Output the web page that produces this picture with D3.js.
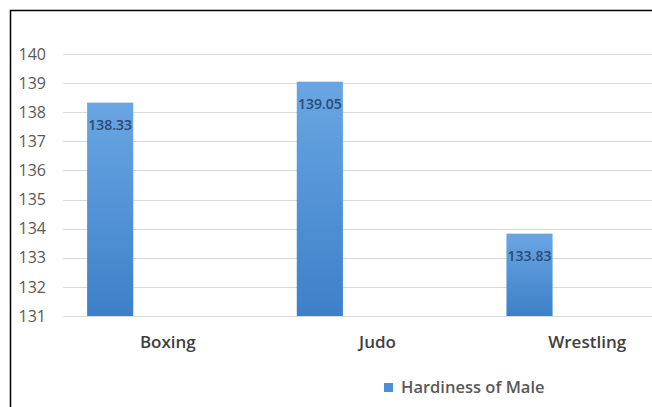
<!DOCTYPE html>
<html>
<head>
<meta charset="utf-8">
<script src="https://cdn.jsdelivr.net/npm/d3@7"></script>
<style>
  body { margin: 0; background: #fff; }
  svg { display: block; }
</style>
</head>
<body>
<div id="chart"></div>
<script>
// data
const sports = ["Boxing", "Judo", "Wrestling"];
const hardinessMale = [138.33, 139.05, 133.83];
const yTicks = [131, 132, 133, 134, 135, 136, 137, 138, 139, 140];
const seriesName = "Hardiness of Male";

const sizes = {
    width: 652,
    height: 407,
    margin: {top: 54, right: -40, bottom: 91, left: 63}
};

const svg = d3.select("#chart")
              .append("svg")
              .attr("width", sizes.width)
              .attr("height", sizes.height);

const defs = svg.append("defs");
const grad = defs.append("linearGradient")
                 .attr("id", "barGrad")
                 .attr("x1", 0).attr("y1", 0)
                 .attr("x2", 0).attr("y2", 1);
grad.append("stop").attr("offset", "0%").attr("stop-color", "#69a6e2");
grad.append("stop").attr("offset", "100%").attr("stop-color", "#3d80ca");

// chart border (cropped on the right / bottom)
svg.append("path")
   .attr("d", `M10.5,${sizes.height} V10.5 H${sizes.width}`)
   .attr("fill", "none")
   .attr("stroke", "#000")
   .attr("stroke-width", 1.5);

const x = d3.scaleBand()
            .domain(sports)
            .range([sizes.margin.left, sizes.width - sizes.margin.right]);

const y = d3.scaleLinear()
            .domain([131, 140])
            .range([sizes.height - sizes.margin.bottom, sizes.margin.top]);

// gridlines
svg.append("g")
   .selectAll("line")
   .data(yTicks)
   .join("line")
   .attr("x1", sizes.margin.left)
   .attr("x2", sizes.width)
   .attr("y1", d => Math.round(y(d)) + 0.5)
   .attr("y2", d => Math.round(y(d)) + 0.5)
   .attr("stroke", "#d9d9d9")
   .attr("stroke-width", 1);

// y axis labels
const yAxis = d3.axisLeft(y).tickValues(yTicks).tickSize(0).tickPadding(0);
svg.append("g")
   .attr("transform", `translate(46,0)`)
   .call(yAxis)
   .call(g => g.select(".domain").remove())
   .selectAll("text")
   .attr("font-family", "Open Sans, sans-serif")
   .attr("font-size", 16)
   .attr("fill", "#595959");

// bars sit in the left part of each category band
const barOffset = x.bandwidth() * 0.115;
const barWidth = x.bandwidth() * 0.22;

const bars = svg.append("g")
                .selectAll("rect")
                .data(sports)
                .join("rect")
                .attr("x", (d, i) => x(d) + barOffset)
                .attr("y", (d, i) => y(hardinessMale[i]))
                .attr("width", barWidth)
                .attr("height", (d, i) => y(131) - y(hardinessMale[i]))
                .attr("fill", "url(#barGrad)");

// value labels
svg.append("g")
   .selectAll("text")
   .data(sports)
   .join("text")
   .attr("x", d => x(d) + barOffset + barWidth / 2)
   .attr("y", (d, i) => y(hardinessMale[i]) + 27)
   .attr("text-anchor", "middle")
   .attr("font-family", "Open Sans, sans-serif")
   .attr("font-weight", 600)
   .attr("font-size", 14)
   .attr("fill", "#2b4b78")
   .text((d, i) => hardinessMale[i].toFixed(2));

// category labels
const xAxis = d3.axisBottom(x).tickSize(0).tickPadding(0);
svg.append("g")
   .attr("transform", `translate(0,${y(131) + 32})`)
   .call(xAxis)
   .call(g => g.select(".domain").remove())
   .selectAll("text")
   .attr("dy", 0)
   .attr("font-family", "Open Sans, sans-serif")
   .attr("font-weight", 600)
   .attr("font-size", 17)
   .attr("fill", "#404040");

// legend
const legend = svg.append("g").attr("transform", "translate(384,393)");
legend.append("rect")
      .attr("x", 0).attr("y", -10)
      .attr("width", 9).attr("height", 9)
      .attr("fill", "#4a8fd8");
legend.append("text")
      .attr("x", 17)
      .attr("y", 0)
      .attr("font-family", "Open Sans, sans-serif")
      .attr("font-weight", 600)
      .attr("font-size", 16.5)
      .attr("fill", "#595959")
      .text(seriesName);
</script>
</body>
</html>
